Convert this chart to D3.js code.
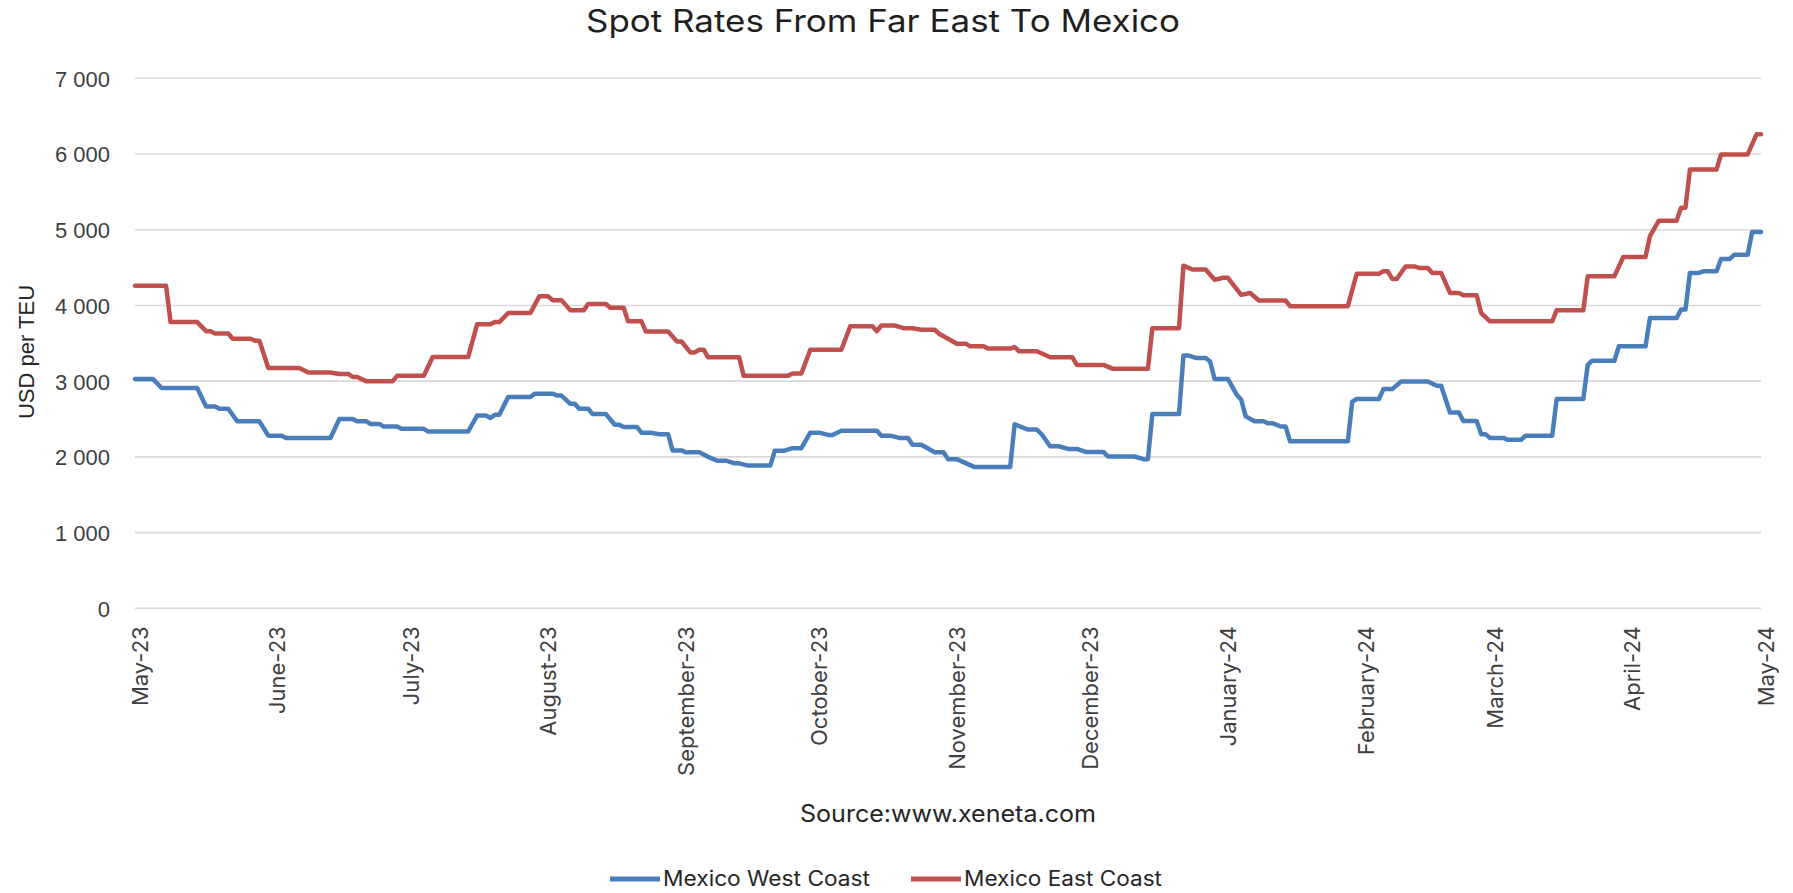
<!DOCTYPE html>
<html>
<head>
<meta charset="utf-8">
<script src="https://cdn.jsdelivr.net/npm/d3@7"></script>
<style>
  body { margin: 0; background: #ffffff; }
  svg { display: block; }
</style>
</head>
<body>
<svg id="chart" width="1793" height="893"></svg>
<script>
// ---- Data -------------------------------------------------------------
const chartTitle = "Spot Rates From Far East To Mexico";
const yAxisTitle = "USD per TEU";
const sourceNote = "Source:www.xeneta.com";

const monthTicks = [
  "2023-05-01", "2023-06-01", "2023-07-01", "2023-08-01", "2023-09-01",
  "2023-10-01", "2023-11-01", "2023-12-01", "2024-01-01", "2024-02-01",
  "2024-03-01", "2024-04-01", "2024-05-01"
];
const yTicks = [0, 1000, 2000, 3000, 4000, 5000, 6000, 7000];

const seriesNames = ["Mexico West Coast", "Mexico East Coast"];
const seriesColors = ["#4a7ebb", "#c0504d"];

// Mexico West Coast, USD per TEU (breakpoints of the daily series)
const westDates = [
  "2023-05-01","2023-05-05","2023-05-07","2023-05-15","2023-05-17","2023-05-19","2023-05-20","2023-05-22",
  "2023-05-24","2023-05-29","2023-05-31","2023-06-03","2023-06-04","2023-06-14","2023-06-16","2023-06-19",
  "2023-06-20","2023-06-22","2023-06-23","2023-06-25","2023-06-26","2023-06-29","2023-06-30","2023-07-05",
  "2023-07-06","2023-07-15","2023-07-17","2023-07-19","2023-07-20","2023-07-21","2023-07-22","2023-07-24",
  "2023-07-29","2023-07-30","2023-08-03","2023-08-04","2023-08-05","2023-08-07","2023-08-08","2023-08-09",
  "2023-08-11","2023-08-12","2023-08-15","2023-08-17","2023-08-18","2023-08-19","2023-08-22","2023-08-23",
  "2023-08-25","2023-08-27","2023-08-29","2023-08-30","2023-09-01","2023-09-02","2023-09-05","2023-09-07",
  "2023-09-09","2023-09-11","2023-09-13","2023-09-14","2023-09-16","2023-09-21","2023-09-22","2023-09-24",
  "2023-09-26","2023-09-28","2023-09-30","2023-10-02","2023-10-04","2023-10-05","2023-10-07","2023-10-15",
  "2023-10-16","2023-10-18","2023-10-20","2023-10-22","2023-10-23","2023-10-25","2023-10-28","2023-10-30",
  "2023-10-31","2023-11-02","2023-11-06","2023-11-14","2023-11-15","2023-11-18","2023-11-20","2023-11-21",
  "2023-11-23","2023-11-25","2023-11-27","2023-11-29","2023-12-01","2023-12-05","2023-12-06","2023-12-12",
  "2023-12-14","2023-12-15","2023-12-16","2023-12-22","2023-12-23","2023-12-24","2023-12-26","2023-12-28",
  "2023-12-29","2023-12-30","2024-01-02","2024-01-04","2024-01-05","2024-01-06","2024-01-08","2024-01-10",
  "2024-01-11","2024-01-12","2024-01-14","2024-01-15","2024-01-16","2024-01-29","2024-01-30","2024-01-31",
  "2024-02-05","2024-02-06","2024-02-08","2024-02-10","2024-02-16","2024-02-18","2024-02-19","2024-02-21",
  "2024-02-23","2024-02-24","2024-02-27","2024-02-28","2024-02-29","2024-03-01","2024-03-04","2024-03-05",
  "2024-03-08","2024-03-09","2024-03-15","2024-03-16","2024-03-22","2024-03-23","2024-03-24","2024-03-29",
  "2024-03-30","2024-04-05","2024-04-06","2024-04-12","2024-04-13","2024-04-14","2024-04-15","2024-04-17",
  "2024-04-18","2024-04-21","2024-04-22","2024-04-24","2024-04-25","2024-04-28","2024-04-29","2024-05-01"
];
const westValues = [
  3030,3030,2910,2910,2665,2665,2635,2635,
  2470,2470,2280,2280,2250,2250,2500,2500,
  2470,2470,2435,2435,2400,2400,2370,2370,
  2335,2335,2545,2545,2515,2555,2555,2790,
  2790,2835,2835,2810,2810,2700,2700,2635,
  2635,2565,2565,2425,2425,2395,2395,2320,
  2320,2300,2300,2085,2085,2060,2060,2000,
  1950,1950,1915,1915,1885,1885,2080,2080,
  2115,2115,2320,2320,2290,2290,2345,2345,
  2280,2280,2250,2250,2160,2160,2060,2060,
  1970,1970,1865,1865,2430,2360,2360,2305,
  2140,2140,2105,2105,2065,2065,2005,2005,
  1970,1970,2565,2565,3340,3340,3305,3305,
  3260,3030,3030,2820,2755,2535,2470,2470,
  2445,2445,2400,2400,2205,2205,2730,2765,
  2765,2895,2895,2995,2995,2940,2940,2585,
  2585,2475,2475,2300,2300,2250,2250,2225,
  2225,2280,2280,2765,2765,3215,3270,3270,
  3460,3460,3835,3835,3945,3945,4430,4430,
  4450,4450,4615,4615,4670,4670,4970,4970
];

// Mexico East Coast, USD per TEU (breakpoints of the daily series)
const eastDates = [
  "2023-05-01","2023-05-08","2023-05-09","2023-05-15","2023-05-17","2023-05-18","2023-05-19","2023-05-22",
  "2023-05-23","2023-05-27","2023-05-28","2023-05-29","2023-05-31","2023-06-07","2023-06-09","2023-06-14",
  "2023-06-16","2023-06-18","2023-06-19","2023-06-20","2023-06-22","2023-06-28","2023-06-29","2023-07-05",
  "2023-07-07","2023-07-15","2023-07-17","2023-07-20","2023-07-21","2023-07-22","2023-07-24","2023-07-29",
  "2023-07-31","2023-08-02","2023-08-03","2023-08-05","2023-08-07","2023-08-10","2023-08-11","2023-08-15",
  "2023-08-16","2023-08-19","2023-08-20","2023-08-23","2023-08-24","2023-08-29","2023-08-31","2023-09-01",
  "2023-09-03","2023-09-04","2023-09-05","2023-09-06","2023-09-07","2023-09-14","2023-09-15","2023-09-25",
  "2023-09-26","2023-09-28","2023-09-30","2023-10-07","2023-10-09","2023-10-14","2023-10-15","2023-10-16",
  "2023-10-19","2023-10-21","2023-10-23","2023-10-25","2023-10-28","2023-10-29","2023-11-02","2023-11-04",
  "2023-11-05","2023-11-08","2023-11-09","2023-11-14","2023-11-15","2023-11-16","2023-11-20","2023-11-23",
  "2023-11-28","2023-11-29","2023-12-05","2023-12-07","2023-12-15","2023-12-16","2023-12-22","2023-12-23",
  "2023-12-25","2023-12-28","2023-12-30","2024-01-01","2024-01-02","2024-01-05","2024-01-07","2024-01-09",
  "2024-01-15","2024-01-16","2024-01-29","2024-01-31","2024-02-05","2024-02-06","2024-02-07","2024-02-08",
  "2024-02-09","2024-02-11","2024-02-13","2024-02-14","2024-02-16","2024-02-17","2024-02-19","2024-02-21",
  "2024-02-23","2024-02-24","2024-02-27","2024-02-28","2024-03-01","2024-03-15","2024-03-16","2024-03-22",
  "2024-03-23","2024-03-29","2024-03-31","2024-04-05","2024-04-06","2024-04-08","2024-04-12","2024-04-13",
  "2024-04-14","2024-04-15","2024-04-21","2024-04-22","2024-04-28","2024-04-30","2024-05-01"
];
const eastValues = [
  4260,4260,3780,3780,3660,3660,3630,3630,
  3560,3560,3535,3535,3175,3175,3115,3115,
  3095,3095,3055,3055,3000,3000,3070,3070,
  3320,3320,3750,3750,3780,3780,3900,3900,
  4120,4120,4070,4070,3935,3935,4020,4020,
  3970,3970,3790,3790,3655,3655,3525,3525,
  3380,3380,3415,3415,3315,3315,3070,3070,
  3100,3100,3415,3415,3725,3725,3660,3735,
  3735,3700,3700,3680,3680,3625,3495,3495,
  3460,3460,3430,3430,3450,3395,3395,3315,
  3315,3215,3215,3165,3165,3700,3700,4525,
  4475,4475,4340,4365,4365,4140,4165,4065,
  4065,3990,3990,4420,4420,4450,4450,4350,
  4350,4515,4515,4495,4495,4430,4430,4165,
  4165,4135,4135,3900,3790,3790,3935,3935,
  4385,4385,4640,4640,4915,5120,5120,5290,
  5290,5795,5795,5995,5995,6260,6260
];

// ---- Setup ------------------------------------------------------------
const parseDate = d3.utcParse("%Y-%m-%d");
const svg = d3.select("#chart");
const W = 1793, H = 893;
svg.append("rect").attr("width", W).attr("height", H).attr("fill", "#ffffff");

const plot = { left: 135, right: 1761, top: 78.3, bottom: 608.3 };
const labelFont = "Inter, 'Open Sans', sans-serif";
const numFont = "'Liberation Sans', Arial, sans-serif";

const x = d3.scaleUtc()
  .domain([parseDate(monthTicks[0]), parseDate(monthTicks[monthTicks.length - 1])])
  .range([plot.left, plot.right]);
const y = d3.scaleLinear()
  .domain([yTicks[0], yTicks[yTicks.length - 1]])
  .range([plot.bottom, plot.top]);

const spaced = d3.formatLocale({ decimal: ".", thousands: " ", grouping: [3], currency: ["", ""] }).format(",");

// Horizontal gridlines
svg.append("g")
  .selectAll("line")
  .data(yTicks)
  .join("line")
  .attr("x1", plot.left).attr("x2", plot.right)
  .attr("y1", d => y(d)).attr("y2", d => y(d))
  .attr("stroke", "#d9d9d9").attr("stroke-width", 1.6);

// Y axis labels
const yAxis = svg.append("g")
  .attr("transform", `translate(${plot.left},0)`)
  .call(d3.axisLeft(y).tickValues(yTicks).tickFormat(spaced).tickSize(0).tickPadding(25));
yAxis.select(".domain").remove();
yAxis.selectAll("text")
  .attr("font-family", numFont).attr("font-size", 22).attr("fill", "#404040")
  .attr("dy", "0.36em");

// X axis labels, rotated
const xAxis = svg.append("g")
  .attr("transform", `translate(0,${plot.bottom})`)
  .call(d3.axisBottom(x).tickValues(monthTicks.map(parseDate)).tickFormat(d3.utcFormat("%B-%y")).tickSize(0));
xAxis.select(".domain").remove();
xAxis.selectAll("text")
  .attr("transform", "rotate(-90)")
  .attr("x", -18).attr("y", 12).attr("dy", 0)
  .style("text-anchor", "end")
  .attr("font-family", labelFont).attr("font-size", 22).attr("fill", "#404040");

// Series lines
const line = d3.line()
  .x(d => x(d.date))
  .y(d => y(d.value));

const series = [
  { name: seriesNames[0], color: seriesColors[0], points: westDates.map((d, i) => ({ date: parseDate(d), value: westValues[i] })) },
  { name: seriesNames[1], color: seriesColors[1], points: eastDates.map((d, i) => ({ date: parseDate(d), value: eastValues[i] })) }
];

svg.append("g")
  .selectAll("path")
  .data(series)
  .join("path")
  .attr("d", d => line(d.points))
  .attr("fill", "none")
  .attr("stroke", d => d.color)
  .attr("stroke-width", 4.5)
  .attr("stroke-linejoin", "round")
  .attr("stroke-linecap", "round");

// Title
svg.append("text")
  .attr("x", 883).attr("y", 32)
  .attr("text-anchor", "middle")
  .attr("font-family", labelFont).attr("font-size", 31).attr("fill", "#1f1f1f")
  .attr("textLength", 594).attr("lengthAdjust", "spacingAndGlyphs")
  .text(chartTitle);

// Y axis title
svg.append("text")
  .attr("transform", "translate(34,352) rotate(-90)")
  .attr("text-anchor", "middle")
  .attr("font-family", numFont).attr("font-size", 22).attr("fill", "#262626")
  .text(yAxisTitle);

// Source line
svg.append("text")
  .attr("x", 948).attr("y", 822)
  .attr("text-anchor", "middle")
  .attr("font-family", labelFont).attr("font-size", 24).attr("fill", "#262626")
  .attr("textLength", 296).attr("lengthAdjust", "spacingAndGlyphs")
  .text(sourceNote);

// Legend (kept just inside the bottom edge)
const legendItems = [
  { x: 610, textLen: 207 },
  { x: 911, textLen: 198 }
];
const legend = svg.append("g");
const li = legend.selectAll("g").data(series).join("g")
  .attr("transform", (d, i) => `translate(${legendItems[i].x},0)`);
li.append("line")
  .attr("x1", 0).attr("x2", 50).attr("y1", 879).attr("y2", 879)
  .attr("stroke", d => d.color).attr("stroke-width", 5);
li.append("text")
  .attr("x", 53).attr("y", 886)
  .attr("font-family", labelFont).attr("font-size", 21).attr("fill", "#262626")
  .attr("textLength", (d, i) => legendItems[i].textLen).attr("lengthAdjust", "spacingAndGlyphs")
  .text(d => d.name);
</script>
</body>
</html>
